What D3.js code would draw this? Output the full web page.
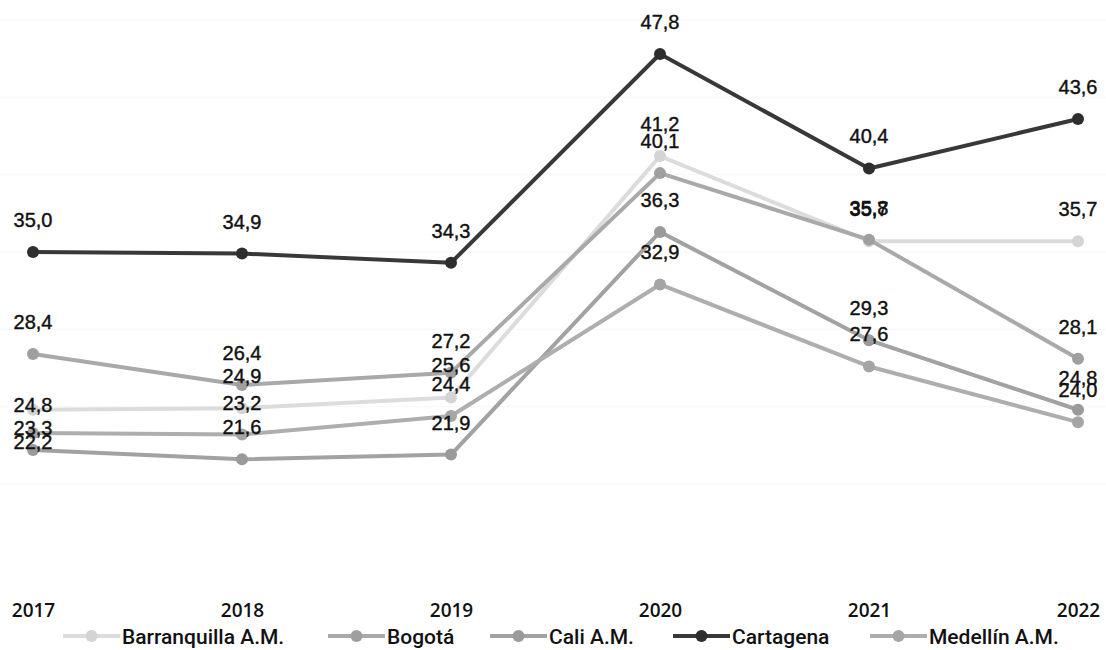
<!DOCTYPE html>
<html>
<head>
<meta charset="utf-8">
<script src="https://cdn.jsdelivr.net/npm/d3@7"></script>
<style>
  html, body { margin: 0; padding: 0; background: #fff; }
  svg { display: block; }
</style>
</head>
<body>
<svg id="chart" width="1106" height="650"></svg>
<script>
// ---- Data ----
const years = ["2017", "2018", "2019", "2020", "2021", "2022"];
const seriesNames = ["Barranquilla A.M.", "Bogotá", "Cali A.M.", "Cartagena", "Medellín A.M."];
const barranquilla = [24.8, 24.9, 25.6, 41.2, 35.7, 35.7];
const bogota       = [28.4, 26.4, 27.2, 40.1, 35.8, 28.1];
const cali         = [22.2, 21.6, 21.9, 36.3, 29.3, 24.8];
const cartagena    = [35.0, 34.9, 34.3, 47.8, 40.4, 43.6];
const medellin     = [23.3, 23.2, 24.4, 32.9, 27.6, 24.0];
const seriesValues = [barranquilla, bogota, cali, cartagena, medellin];

// ---- Styles ----
const lineColors   = ["#dcdcdc", "#a9a9a9", "#a2a2a2", "#383838", "#aeaeae"];
const markerColors = ["#d4d4d4", "#9f9f9f", "#9a9a9a", "#2e2e2e", "#a5a5a5"];
// label vertical nudges (px) for a few crowded labels, keyed by series index and year index
const labelNudge = { "0-0": 27, "4-0": 27, "2-0": 24 };

const svg = d3.select("#chart");
const W = 1106, H = 650;

const x = d3.scalePoint().domain(years).range([33, 1078]);
const y = d3.scaleLinear().domain([20, 50]).range([484, 20]);

// very faint gridlines (scan shows light traces)
svg.append("g")
  .selectAll("line")
  .data(y.ticks(6))
  .join("line")
  .attr("x1", 0).attr("x2", W)
  .attr("y1", d => y(d)).attr("y2", d => y(d))
  .attr("stroke", "#f7f7f7")
  .attr("stroke-width", 1);

const series = seriesNames.map((name, i) => ({
  name, i,
  values: seriesValues[i].map((v, j) => ({ year: years[j], v, j }))
}));

const line = d3.line().x(d => x(d.year)).y(d => y(d.v));

const gS = svg.append("g");
series.forEach(s => {
  const g = gS.append("g");
  g.append("path")
    .datum(s.values)
    .attr("d", line)
    .attr("fill", "none")
    .attr("stroke", lineColors[s.i])
    .attr("stroke-width", 4)
    .attr("stroke-linejoin", "round");
  g.selectAll("circle")
    .data(s.values)
    .join("circle")
    .attr("cx", d => x(d.year))
    .attr("cy", d => y(d.v))
    .attr("r", 6)
    .attr("fill", markerColors[s.i]);
});

// data labels
const fmt = v => v.toFixed(1).replace(".", ",");
const gL = svg.append("g");
series.forEach(s => {
  gL.selectAll(null)
    .data(s.values)
    .join("text")
    .attr("x", d => x(d.year))
    .attr("y", d => y(d.v) - 25 + (labelNudge[s.i + "-" + d.j] || 0))
    .attr("text-anchor", "middle")
    .attr("font-family", "'Liberation Sans', Arial, sans-serif")
    .attr("font-size", 20)
    .attr("fill", "#111")
    .attr("stroke", "#111")
    .attr("stroke-width", 0.4)
    .text(d => fmt(d.v));
});

// x axis (year labels)
const xAxis = d3.axisBottom(x).tickSize(0).tickPadding(3);
const gx = svg.append("g").attr("transform", "translate(0,600)").call(xAxis);
gx.select(".domain").remove();
gx.selectAll("text")
  .attr("font-family", "'Open Sans', sans-serif")
  .attr("font-weight", 600)
  .attr("font-size", 19)
  .attr("fill", "#111");

// legend
const legendX = [63, 328, 490, 673, 870];
const legY = 636;
const leg = svg.append("g");
series.forEach(s => {
  const g = leg.append("g").attr("transform", `translate(${legendX[s.i]},${legY})`);
  g.append("line").attr("x1", 0).attr("x2", 57).attr("y1", 0).attr("y2", 0)
    .attr("stroke", lineColors[s.i]).attr("stroke-width", 4);
  g.append("circle").attr("cx", 28.5).attr("cy", 0).attr("r", 6).attr("fill", markerColors[s.i]);
  g.append("text")
    .attr("x", 59).attr("y", 7.5)
    .attr("font-family", "Roboto, 'Open Sans', sans-serif")
    .attr("font-weight", 500)
    .attr("font-size", 21)
    .attr("fill", "#111")
    .text(s.name);
});
</script>
</body>
</html>
